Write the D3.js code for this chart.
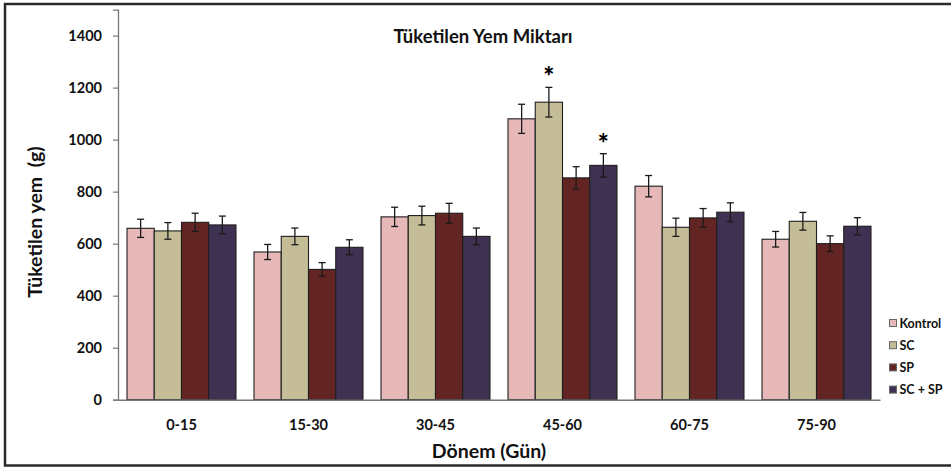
<!DOCTYPE html>
<html>
<head>
<meta charset="utf-8">
<script src="https://cdn.jsdelivr.net/npm/d3@7/dist/d3.min.js"></script>
<style>
  html, body { margin: 0; padding: 0; background: #fff; }
  svg { display: block; font-family: Lato, "Open Sans", sans-serif; }
</style>
</head>
<body>
<svg id="chart" width="951" height="468"></svg>
<script>
// Feed consumption per period (g), mean ± error
const periods = ["0-15", "15-30", "30-45", "45-60", "60-75", "75-90"];
const groups = ["Kontrol", "SC", "SP", "SC + SP"];
const colors = ["#E6B9B8", "#C4BD97", "#632523", "#3F3151"];

const kontrol    = [659, 568, 703, 1080, 821, 617];
const sc         = [649, 628, 708, 1144, 663, 686];
const sp         = [682, 501, 717, 853, 699, 600];
const scsp       = [672, 586, 628, 901, 721, 667];

const kontrolErr = [35, 29, 37, 56, 41, 30];
const scErr      = [32, 32, 36, 57, 35, 34];
const spErr      = [35, 26, 38, 43, 36, 30];
const scspErr    = [34, 29, 32, 45, 36, 33];

// Significance markers: [period, group]
const stars = [["45-60", "SC"], ["45-60", "SC + SP"]];

const yTicks = [0, 200, 400, 600, 800, 1000, 1200, 1400];

const values = [kontrol, sc, sp, scsp];
const errors = [kontrolErr, scErr, spErr, scspErr];

const svg = d3.select("#chart");

// outer frame
svg.append("rect")
  .attr("x", 5).attr("y", 4)
  .attr("width", 970).attr("height", 461.5)
  .attr("fill", "none").attr("stroke", "#2a2a2a").attr("stroke-width", 2.5);

const x0 = d3.scaleBand().domain(periods).range([118, 880]).paddingInner(0.142).paddingOuter(0.071);
const x1 = d3.scaleBand().domain(groups).range([0, x0.bandwidth()]);
const y = d3.scaleLinear().domain([0, 1500]).range([399.7, 9.6]);

// y axis
const yAxis = d3.axisLeft(y).tickValues(yTicks).tickFormat(d3.format("d")).tickSize(5).tickPadding(11);
const gy = svg.append("g").attr("transform", "translate(118,0)").call(yAxis);
gy.select(".domain").attr("stroke", "#777").attr("stroke-width", 1.3);
gy.selectAll(".tick line").attr("stroke", "#777").attr("stroke-width", 1.2);
gy.selectAll(".tick text")
  .attr("font-family", "Lato, sans-serif").attr("font-weight", "bold")
  .attr("font-size", 14.5).attr("fill", "#111");

// bars
const data = [];
periods.forEach((p, i) => {
  groups.forEach((g, j) => {
    data.push({ period: p, group: g, j, v: values[j][i], e: errors[j][i] });
  });
});

const bars = svg.append("g");
bars.selectAll("rect").data(data).join("rect")
  .attr("x", d => x0(d.period) + x1(d.group))
  .attr("y", d => y(d.v))
  .attr("width", x1.bandwidth())
  .attr("height", d => y(0) - y(d.v))
  .attr("fill", d => colors[d.j])
  .attr("stroke", "#1e1e1e").attr("stroke-width", 1.1);

// x axis
const gx = svg.append("g").attr("transform", `translate(0,${y(0)})`)
  .call(d3.axisBottom(x0).tickSize(0).tickPadding(20));
gx.select(".domain").attr("stroke", "#777").attr("stroke-width", 1.5);
gx.selectAll(".tick text")
  .attr("font-family", "Lato, sans-serif").attr("font-weight", "bold")
  .attr("font-size", 14.5).attr("fill", "#111");

// error bars
const cap = 3.5;
const eb = svg.append("g").attr("stroke", "#1a1a1a").attr("stroke-width", 1.3);
data.forEach(d => {
  const cx = x0(d.period) + x1(d.group) + x1.bandwidth() / 2;
  eb.append("line").attr("x1", cx).attr("x2", cx).attr("y1", y(d.v + d.e)).attr("y2", y(d.v - d.e));
  eb.append("line").attr("x1", cx - cap).attr("x2", cx + cap).attr("y1", y(d.v + d.e)).attr("y2", y(d.v + d.e));
  eb.append("line").attr("x1", cx - cap).attr("x2", cx + cap).attr("y1", y(d.v - d.e)).attr("y2", y(d.v - d.e));
});

// significance asterisks
stars.forEach(([p, g]) => {
  const j = groups.indexOf(g);
  const i = periods.indexOf(p);
  const cx = x0(p) + x1(g) + x1.bandwidth() / 2;
  svg.append("text")
    .attr("x", cx).attr("y", y(values[j][i] + errors[j][i]) - 1)
    .attr("text-anchor", "middle")
    .attr("font-family", "Lato, sans-serif").attr("font-weight", "900")
    .attr("font-size", 26).attr("fill", "#000")
    .text("*");
});

// title
svg.append("text")
  .attr("x", 483).attr("y", 42.5)
  .attr("text-anchor", "middle")
  .attr("font-weight", "bold").attr("font-size", 18.5).attr("fill", "#111")
  .text("Tüketilen Yem Miktarı");

// axis titles
svg.append("text")
  .attr("transform", "translate(42,222) rotate(-90)")
  .attr("text-anchor", "middle")
  .style("white-space", "pre")
  .attr("font-weight", "bold").attr("font-size", 19.5).attr("fill", "#111")
  .text("Tüketilen yem  (g)");

svg.append("text")
  .attr("x", 489).attr("y", 458)
  .attr("text-anchor", "middle")
  .attr("font-weight", "bold").attr("font-size", 19.5).attr("fill", "#111")
  .text("Dönem (Gün)");

// legend
const legend = svg.append("g");
groups.forEach((g, j) => {
  const ly = 323 + j * 22.2;
  legend.append("rect")
    .attr("x", 889.5).attr("y", ly - 3.5)
    .attr("width", 7).attr("height", 7)
    .attr("fill", colors[j]).attr("stroke", "#666").attr("stroke-width", 1);
  legend.append("text")
    .attr("x", 899.5).attr("y", ly + 4.5)
    .style("white-space", "pre")
    .attr("font-weight", "bold").attr("font-size", 12.5).attr("fill", "#111")
    .text(g);
});
</script>
</body>
</html>
